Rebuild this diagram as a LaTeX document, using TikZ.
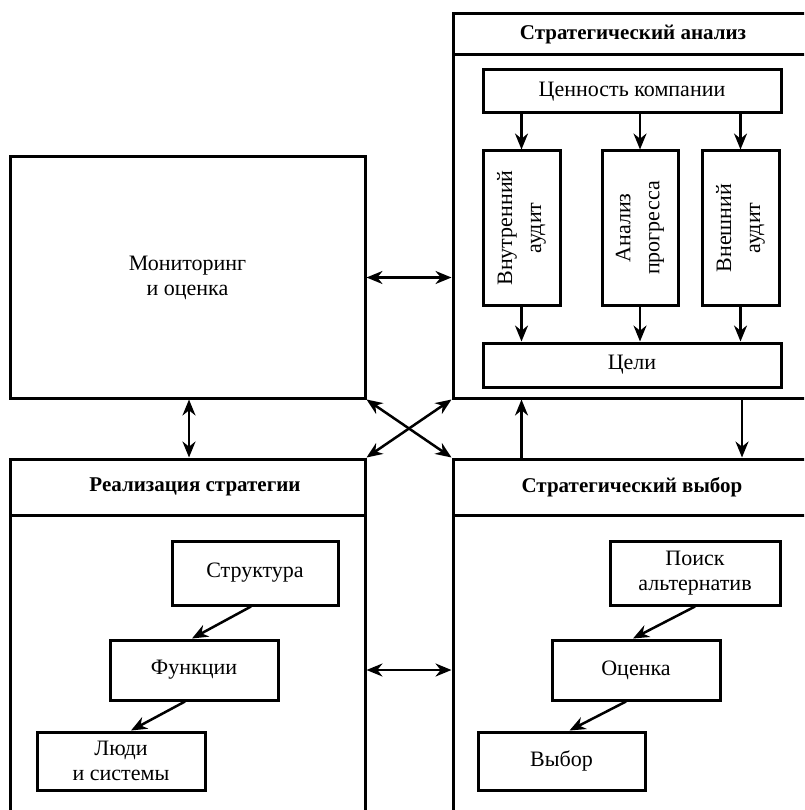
\documentclass[tikz,border=0pt]{standalone}
\usepackage{fontspec}
\setmainfont{Liberation Serif}
\usetikzlibrary{arrows.meta}
\tikzset{
  box/.style={draw, line width=3pt, inner sep=0pt, align=center,
    font=\fontsize{22}{25}\selectfont},
  frame/.style={draw, line width=3pt, inner sep=0pt},
  head/.style={inner sep=0pt, font=\bfseries\fontsize{21}{24}\selectfont},
  conn/.style={line width=2.5pt, -{Stealth[length=16pt,width=13pt]}},
  dconn/.style={line width=2.5pt, {Stealth[length=16pt,width=13pt]}-{Stealth[length=16pt,width=13pt]}},
  vtext/.style={rotate=90, align=center, font=\fontsize{22}{29}\selectfont, inner sep=0pt}
}
\begin{document}
\begin{tikzpicture}[x=1pt,y=-1pt]
\useasboundingbox (0,0) rectangle (804,810);
\fill[white] (0,0) rectangle (804,810);
\clip (0,0) rectangle (804,810);

% Monitoring
\node[box, minimum width=355pt, minimum height=241pt] (mon) at (187.5,277.5) {Мониторинг\\и оценка};

% Strategic analysis
\node[frame, minimum width=407pt, minimum height=384pt] (sa) at (656.5,206) {};
\coordinate (sahl) at (453,55);
\draw[line width=3pt] (sahl) -- (sahl -| sa.east);
\node[head] (satitle) at (633,34.5) {Стратегический анализ};
\node[box, minimum width=298pt, minimum height=43pt] (val) at (632,91.5) {Ценность компании};
\node[box, minimum width=77pt, minimum height=154pt] (ia) at (521.5,228) {};
\node[vtext] (iat) at (ia.center) {Внутренний\\аудит};
\node[box, minimum width=76pt, minimum height=154pt] (ap) at (640,228) {};
\node[vtext] (apt) at (ap.center) {Анализ\\прогресса};
\node[box, minimum width=77pt, minimum height=154pt] (ea) at (740.5,228) {};
\node[vtext] (eat) at (ea.center) {Внешний\\аудит};
\node[box, minimum width=298pt, minimum height=44pt] (goals) at (632,365) {Цели};

\draw[conn] (ia |- val.south) -- (ia.north);
\draw[conn] (ap |- val.south) -- (ap.north);
\draw[conn] (ea |- val.south) -- (ea.north);
\draw[conn] (ia.south) -- (ia |- goals.north);
\draw[conn] (ap.south) -- (ap |- goals.north);
\draw[conn] (ea.south) -- (ea |- goals.north);

% Realization
\node[frame, minimum width=355pt, minimum height=400pt] (real) at (187.5,659) {};
\coordinate (rhl) at (10,515);
\draw[line width=3pt] (rhl) -- (rhl -| real.east);
\node[head] (realtitle) at (195,487) {Реализация стратегии};
\node[box, minimum width=166pt, minimum height=64pt] (str) at (255,573) {Структура};
\node[box, minimum width=168pt, minimum height=60pt] (fun) at (194,670) {Функции};
\node[box, minimum width=168pt, minimum height=58pt] (ppl) at (121,761) {Люди\\и системы};
\draw[conn] ([xshift=-4pt]str.south) -- ([xshift=-2pt]fun.north);
\draw[conn] ([xshift=-9pt]fun.south) -- ([xshift=10pt]ppl.north);

% Strategic choice
\node[frame, minimum width=407pt, minimum height=400pt] (ch) at (656.5,659) {};
\coordinate (chl) at (453,515);
\draw[line width=3pt] (chl) -- (chl -| ch.east);
\node[head] (chtitle) at (632,487) {Стратегический выбор};
\node[box, minimum width=170pt, minimum height=64pt] (alt) at (695,573) {Поиск\\альтернатив};
\node[box, minimum width=168pt, minimum height=60pt] (est) at (636,670) {Оценка};
\node[box, minimum width=167pt, minimum height=58pt] (sel) at (561.5,761) {Выбор};
\draw[conn] (alt.south) -- ([xshift=-3pt]est.north);
\draw[conn] ([xshift=-10pt]est.south) -- ([xshift=8pt]sel.north);

% Connectors between blocks
\draw[dconn] (mon.east) -- (mon.east -| sa.west);
\draw[dconn] ([xshift=1.5pt]mon.south) -- ([xshift=1.5pt]real.north);
\draw[dconn] (mon.south east) -- (ch.north west);
\draw[dconn] (sa.south west) -- (real.north east);
\draw[conn] (ia |- ch.north) -- (ia |- sa.south);
\draw[conn] ([xshift=1.5pt]ea.center |- sa.south) -- ([xshift=1.5pt]ea.center |- ch.north);
\draw[dconn] (fun -| real.east) -- (fun -| ch.west);
\end{tikzpicture}
\end{document}
